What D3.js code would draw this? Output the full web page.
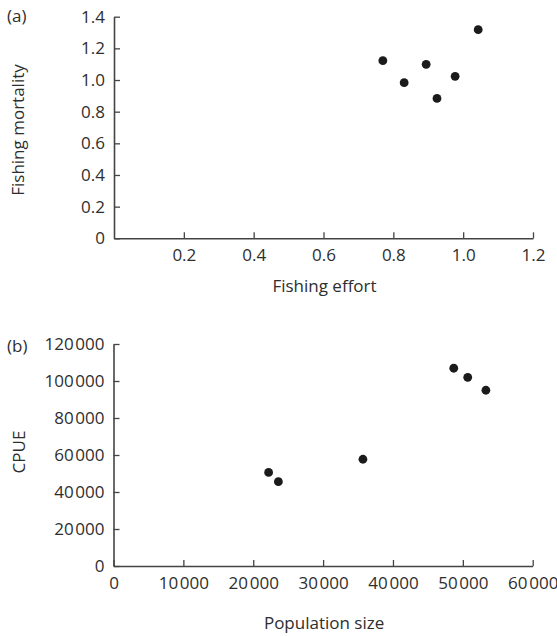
<!DOCTYPE html>
<html>
<head>
<meta charset="utf-8">
<script src="https://cdn.jsdelivr.net/npm/d3@7"></script>
<style>
  html, body { margin: 0; padding: 0; background: #fff; }
  svg text { font-family: "Open Sans", "Noto Sans", sans-serif; fill: #2e2e2e; }
</style>
</head>
<body>
<svg id="chart" width="557" height="636"></svg>
<script>
// Panel (a): fishing effort vs fishing mortality
const effort    = [0.770, 0.831, 0.894, 0.925, 0.977, 1.043];
const mortality = [1.122, 0.983, 1.099, 0.884, 1.023, 1.318];
const effortTicks    = [0.2, 0.4, 0.6, 0.8, 1.0, 1.2];
const mortalityTicks = [0, 0.2, 0.4, 0.6, 0.8, 1.0, 1.2, 1.4];

// Panel (b): population size vs CPUE
const popSize = [22200, 23600, 35700, 48700, 50700, 53300];
const cpue    = [50600, 45600, 57700, 106900, 102000, 95000];
const popTicks  = [0, 10000, 20000, 30000, 40000, 50000, 60000];
const cpueTicks = [0, 20000, 40000, 60000, 80000, 100000, 120000];

const svg = d3.select("#chart");
const FS = 17;
const axisColor = "#444";
const dotColor = "#1b1b1b";

const fmtA = d => d === 0 ? "0" : d3.format(".1f")(d);
const loc = d3.formatLocale({decimal: ".", thousands: "\u200A", grouping: [3], currency: ["", ""]});
const fmtB = loc.format(",");

function panel(cfg) {
  const x = d3.scaleLinear().domain(cfg.xDomain).range(cfg.xRange);
  const y = d3.scaleLinear().domain(cfg.yDomain).range(cfg.yRange);
  const g = svg.append("g");

  const xAxis = g.append("g")
    .attr("transform", `translate(0,${cfg.yRange[0]})`)
    .call(d3.axisBottom(x).tickValues(cfg.xTicks).tickFormat(cfg.fmt)
      .tickSizeInner(-6).tickSizeOuter(0).tickPadding(11));
  const yAxis = g.append("g")
    .attr("transform", `translate(${cfg.xRange[0]},0)`)
    .call(d3.axisLeft(y).tickValues(cfg.yTicks).tickFormat(cfg.fmt)
      .tickSizeInner(-6).tickSizeOuter(0).tickPadding(9));

  [xAxis, yAxis].forEach(a => {
    a.attr("font-family", null).attr("font-size", null);
    a.select(".domain").attr("stroke", axisColor).attr("stroke-width", 1.6);
    a.selectAll(".tick line").attr("stroke", axisColor).attr("stroke-width", 1.3);
    a.selectAll(".tick text").attr("font-size", FS).attr("fill", "#2e2e2e");
  });

  g.selectAll("circle.pt").data(cfg.xs)
    .join("circle").attr("class", "pt")
    .attr("cx", (d) => x(d))
    .attr("cy", (d, i) => y(cfg.ys[i]))
    .attr("r", 4.4)
    .attr("fill", dotColor);

  g.append("text")
    .attr("x", (cfg.xRange[0] + cfg.xRange[1]) / 2 + 1)
    .attr("y", cfg.xTitleY)
    .attr("text-anchor", "middle")
    .attr("font-size", FS)
    .text(cfg.xTitle);

  g.append("text")
    .attr("transform", `translate(${cfg.yTitleX},${cfg.yTitleCY}) rotate(-90)`)
    .attr("text-anchor", "middle")
    .attr("font-size", FS)
    .text(cfg.yTitle);

  g.append("text")
    .attr("x", 7)
    .attr("y", cfg.tagY)
    .attr("font-size", FS)
    .text(cfg.tag);
}

panel({
  xDomain: [0, 1.2], xRange: [114, 533],
  yDomain: [0, 1.4], yRange: [238.3, 16.7],
  xTicks: effortTicks, yTicks: mortalityTicks, fmt: fmtA,
  xs: effort, ys: mortality,
  xTitle: "Fishing effort", xTitleY: 292,
  yTitle: "Fishing mortality", yTitleX: 24, yTitleCY: 130,
  tag: "(a)", tagY: 22
});

panel({
  xDomain: [0, 60000], xRange: [113.5, 532.7],
  yDomain: [0, 120000], yRange: [566, 344],
  xTicks: popTicks, yTicks: cpueTicks, fmt: fmtB,
  xs: popSize, ys: cpue,
  xTitle: "Population size", xTitleY: 629,
  yTitle: "CPUE", yTitleX: 25, yTitleCY: 452,
  tag: "(b)", tagY: 352
});
</script>
</body>
</html>
